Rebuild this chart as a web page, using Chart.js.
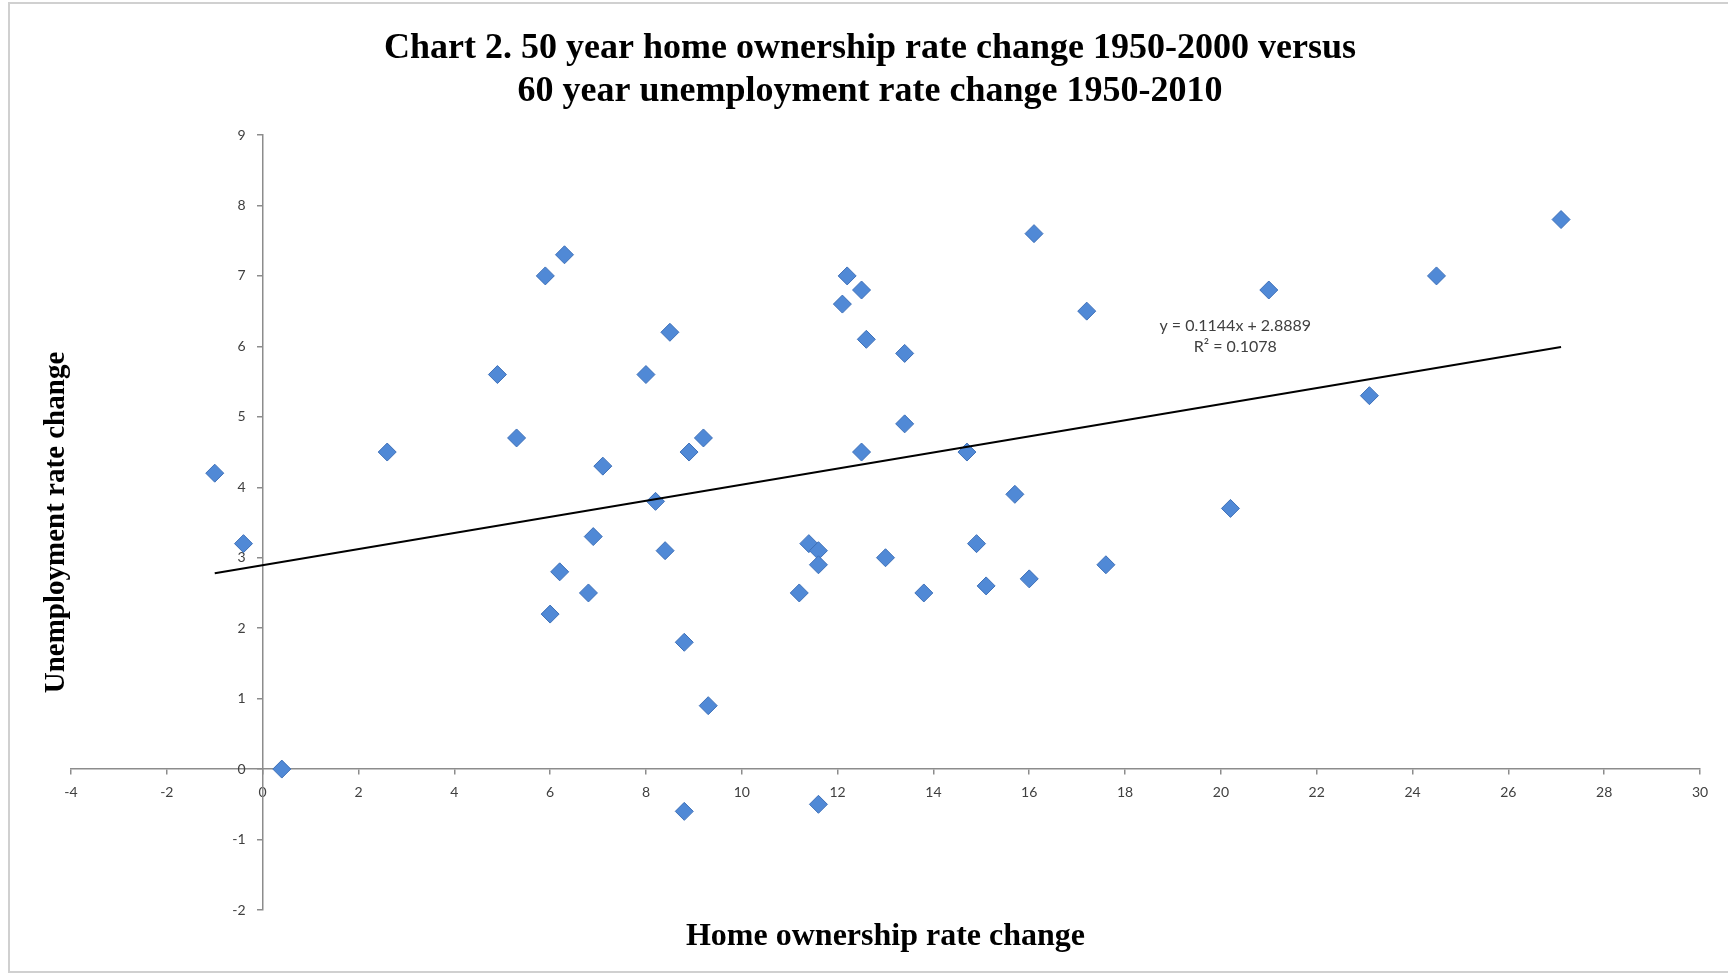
<!DOCTYPE html>
<html>
<head>
<meta charset="utf-8">
<script src="https://cdn.jsdelivr.net/npm/chart.js@4.4.1/dist/chart.umd.min.js"></script>
<style>
  html, body { margin: 0; padding: 0; background: #fff; }
  #wrap { position: relative; width: 1728px; height: 974px; overflow: hidden; }
  #frame { position: absolute; left: 8px; top: 2px; width: 1740px; height: 971px;
           border: 2px solid #d0d0d0; border-right: none; box-sizing: border-box; }
  #chart { position: absolute; left: 0; top: 0; }
</style>
</head>
<body>
<div id="wrap">
  <div id="frame"></div>
  <canvas id="chart" width="1728" height="974"></canvas>
</div>
<script>
// home ownership rate change 1950-2000 (x) vs unemployment rate change 1950-2010 (y)
const homeChange = [-1.0, -0.4, 0.4, 2.6, 4.9, 5.3, 5.9, 6.3, 6.0, 6.2,
                    6.8, 6.9, 7.1, 8.0, 8.2, 8.4, 8.5, 8.8, 8.8, 8.9,
                    9.2, 9.3, 11.2, 11.4, 11.6, 11.6, 11.6, 12.1, 12.2, 12.5,
                    12.5, 12.6, 13.0, 13.4, 13.4, 13.8, 14.7, 14.9, 15.1, 15.7,
                    16.0, 16.1, 17.2, 17.6, 20.2, 21.0, 23.1, 24.5, 27.1];
const unempChange = [4.2, 3.2, 0.0, 4.5, 5.6, 4.7, 7.0, 7.3, 2.2, 2.8,
                     2.5, 3.3, 4.3, 5.6, 3.8, 3.1, 6.2, 1.8, -0.6, 4.5,
                     4.7, 0.9, 2.5, 3.2, 3.1, 2.9, -0.5, 6.6, 7.0, 6.8,
                     4.5, 6.1, 3.0, 5.9, 4.9, 2.5, 4.5, 3.2, 2.6, 3.9,
                     2.7, 7.6, 6.5, 2.9, 3.7, 6.8, 5.3, 7.0, 7.8];

// linear trend line end points
const trendX = [-1.0, 27.1];
const trendY = [2.78, 5.99];
const trendLabel = ['y = 0.1144x + 2.8889', 'R\u00b2 = 0.1078'];

const xRange = [-4, 30];
const xStep = 2;
const yRange = [-2, 9];
const yStep = 1;

const titleLines = ['Chart 2. 50 year home ownership rate change 1950-2000 versus',
                    '60 year unemployment rate change 1950-2010'];
const xTitle = 'Home ownership rate change';
const yTitle = 'Unemployment rate change';

const serif = '"Liberation Serif", "Times New Roman", serif';
const sans = 'Lato, "Open Sans", sans-serif';

// y labels sit on the axis line when the axis is placed at x = 0, push them left
const yLabelGap = 17;
const tickShift = {
    id: 'tickShift',
    beforeDraw(chart) {
        chart.scales.y.getLabelItems().forEach(item => {
            if (!item._moved) {
                item.options.translation[0] -= yLabelGap;
                item._moved = true;
            }
        });
    }
};

// titles and trend equation are drawn by hand
const textPlugin = {
    id: 'texts',
    afterDraw(chart) {
        const ctx = chart.ctx;
        const area = chart.chartArea;
        ctx.save();
        ctx.fillStyle = '#000';
        ctx.textAlign = 'center';
        ctx.textBaseline = 'middle';

        ctx.font = 'bold 36px ' + serif;
        ctx.fillText(titleLines[0], 870, 49);
        ctx.fillText(titleLines[1], 870, 92);

        ctx.font = 'bold 32px ' + serif;
        ctx.fillText(xTitle, (area.left + area.right) / 2, 937);

        ctx.font = 'bold 29px ' + serif;
        ctx.save();
        ctx.translate(57, (area.top + area.bottom) / 2);
        ctx.rotate(-Math.PI / 2);
        ctx.fillText(yTitle, 0, 0);
        ctx.restore();

        const xs = chart.scales.x, ys = chart.scales.y;
        ctx.font = '16px ' + sans;
        ctx.fillStyle = '#404040';
        ctx.fillText(trendLabel[0], xs.getPixelForValue(20.3), ys.getPixelForValue(6.29));
        ctx.fillText(trendLabel[1], xs.getPixelForValue(20.3), ys.getPixelForValue(5.99));
        ctx.restore();
    }
};

const noPad = (scale) => {
    scale.paddingLeft = 0;
    scale.paddingRight = 0;
    scale.paddingTop = 0;
    scale.paddingBottom = 0;
};

new Chart('chart', {
    type: 'scatter',
    data: {
        datasets: [{
            type: 'line',
            data: trendX.map((x, i) => ({ x: x, y: trendY[i] })),
            borderColor: '#000',
            borderWidth: 2,
            pointRadius: 0,
            fill: false,
        }, {
            data: homeChange.map((x, i) => ({ x: x, y: unempChange[i] })),
            pointStyle: 'rectRot',
            pointRadius: 9,
            backgroundColor: '#5089D6',
            borderColor: '#3E70B8',
            borderWidth: 1,
        }],
    },
    options: {
        responsive: false,
        animation: false,
        layout: { padding: { left: 71, right: 28, top: 135, bottom: 64 } },
        plugins: {
            legend: { display: false },
            tooltip: { enabled: false },
            title: { display: false },
        },
        scales: {
            x: {
                type: 'linear',
                min: xRange[0],
                max: xRange[1],
                position: { y: 0 },
                afterFit: noPad,
                grid: { drawOnChartArea: false, drawTicks: true, tickLength: 5, color: '#8c8c8c', lineWidth: 1.5 },
                border: { display: true, color: '#8c8c8c', width: 1.5 },
                ticks: { stepSize: xStep, padding: 10, color: '#404040', font: { family: sans, size: 14 } },
            },
            y: {
                type: 'linear',
                min: yRange[0],
                max: yRange[1],
                position: { x: 0 },
                afterFit: noPad,
                grid: { drawOnChartArea: false, drawTicks: true, tickLength: 5, color: '#8c8c8c', lineWidth: 1.5 },
                border: { display: true, color: '#8c8c8c', width: 1.5 },
                ticks: { stepSize: yStep, color: '#404040', font: { family: sans, size: 14 } },
            },
        },
    },
    plugins: [tickShift, textPlugin],
});
</script>
</body>
</html>
